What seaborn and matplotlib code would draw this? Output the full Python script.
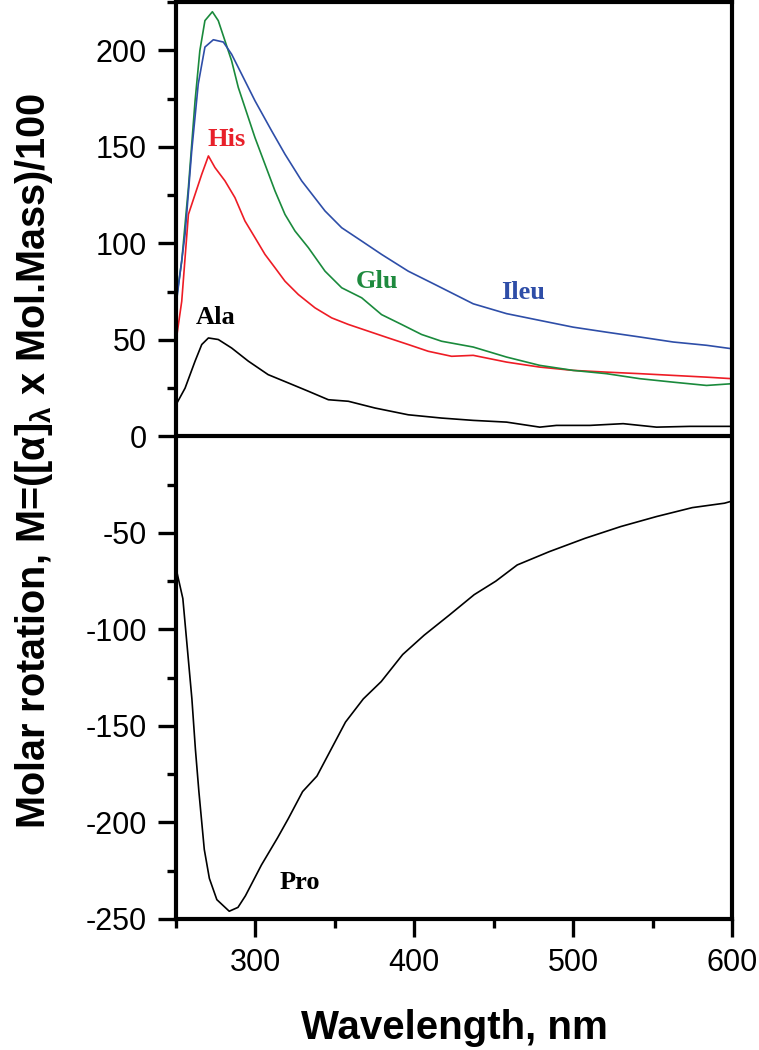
import matplotlib
matplotlib.use('Agg')
import matplotlib.pyplot as plt
import seaborn as sns

# Data (wavelength nm -> molar rotation)
wl_glu = [250, 253.6, 257.8, 262, 265, 268.2, 272.9, 276.6, 280.8, 285, 289.2, 293.4, 299.7, 306, 312.3,
          318.6, 324.9, 333.3, 343.8, 354.3, 366.9, 379.4, 392, 404.6, 417.2, 437.1, 458.1, 479, 500,
          521, 542, 563, 584, 600]
glu = [70, 90.8, 128.9, 173.9, 199.8, 215.4, 220, 215.4, 205, 194.6, 180.8, 170.4, 154.8, 141, 127.2,
       115, 106.4, 97.8, 85.6, 77, 71.8, 63.1, 58, 52.8, 49.3, 46.3, 41.1, 36.8, 34.2,
       32.5, 29.9, 28.1, 26.4, 27.3]

wl_ileu = [250, 255.7, 259.9, 264, 268.2, 273.5, 279.8, 285, 291.3, 299.7, 310.2, 318.6, 329.1, 343.8,
           354.3, 366.9, 379.4, 396.2, 413, 437.1, 458.1, 479, 500, 521, 542, 563, 584, 600]
ileu = [68, 104.7, 148, 182.6, 201.7, 205.5, 204.3, 198, 187.7, 173.9, 158.3, 146.2, 132.4, 116.8,
        108.1, 101.2, 94.3, 85.6, 78.7, 68.7, 63.6, 60.1, 56.6, 54, 51.5, 48.9, 47.2, 45.4]

wl_his = [250, 253.6, 257.8, 262, 266.2, 270.4, 274.5, 280.8, 287.1, 293.4, 299.7, 306, 312.3, 318.6,
          327, 337.5, 348, 358.5, 371.1, 383.7, 396.2, 408.8, 423.5, 437.1, 458.1, 479, 500, 521,
          542, 563, 584, 600]
his = [49.3, 70, 115, 125.4, 135.8, 145.3, 139.3, 132.4, 123.7, 111.6, 103, 94.3, 87.4, 80.4,
       73.5, 66.6, 61.4, 58, 54.5, 51, 47.6, 44.1, 41.5, 42, 38.5, 35.9, 34.2, 33.3,
       32.5, 31.6, 30.7, 29.9]

wl_ala = [250, 255.7, 262, 266.2, 270.4, 276.6, 285, 295.5, 308, 320.7, 333.3, 345.9, 358.5, 375.3,
          396.2, 417.2, 437.1, 458.1, 479, 489.5, 510.5, 531.5, 552.5, 573.5, 600]
ala = [16.4, 25, 39, 47.6, 51, 50.2, 45.8, 39, 32, 27.7, 23.4, 19, 18.2, 14.7,
       11.2, 9.5, 8.3, 7.4, 4.8, 5.7, 5.7, 6.6, 4.8, 5.2, 5.2]

wl_pro = [250, 254.3, 257.7, 260, 262.2, 264.4, 267.8, 271, 275.7, 283.5, 289, 293.7, 303.8, 313.9,
          320.7, 329.7, 338.7, 347.7, 356.7, 367.9, 379.2, 392.7, 406.2, 422, 437.7, 451.3, 464.8,
          485, 507.5, 530, 552.6, 575, 595.3, 600]
pro = [-68.3, -84, -115, -136, -162, -184, -214, -229, -240, -246, -244, -238, -222, -208,
       -198, -184, -176, -162, -148, -136, -127, -113, -103, -92.6, -82, -75, -66.6,
       -59.7, -52.8, -46.7, -41.5, -36.9, -34.6, -33.5]

series = [
    (wl_ala, ala, 'black'),
    (wl_his, his, '#ee1c25'),
    (wl_glu, glu, '#1a8a3c'),
    (wl_ileu, ileu, '#2e4ea8'),
    (wl_pro, pro, 'black'),
]

labels = ['His', 'Glu', 'Ileu', 'Ala', 'Pro']
label_x = [282, 376.5, 468.6, 275.2, 327.7]
label_y = [154, 80.5, 74.3, 61.5, -231]
label_colors = ['#e8202a', '#1e8a3e', '#2e4da7', 'black', 'black']

sns.set_style('ticks')
plt.rcParams['font.family'] = ['Liberation Sans', 'DejaVu Sans']
plt.rcParams['mathtext.fontset'] = 'custom'
plt.rcParams['mathtext.rm'] = 'Liberation Sans:bold'
plt.rcParams['mathtext.it'] = 'Liberation Sans:bold'
plt.rcParams['axes.unicode_minus'] = False
plt.rcParams['text.color'] = 'black'
plt.rcParams['axes.labelcolor'] = 'black'
plt.rcParams['xtick.color'] = 'black'
plt.rcParams['ytick.color'] = 'black'

fig = plt.figure(figsize=(7.59, 10.5), dpi=100)
ax = fig.add_axes([0.2319, 0.1248, 0.7325, 0.8732])

for x, y, c in series:
    sns.lineplot(x=x, y=y, ax=ax, color=c, linewidth=1.2, sort=False)

ax.axhline(0, color='black', linewidth=3)

for t, x, y, c in zip(labels, label_x, label_y, label_colors):
    ax.text(x, y, t, color=c, fontsize=19, fontweight='bold', family='Liberation Serif',
            ha='center', va='center')

ax.set_xlim(250, 600)
ax.set_ylim(-250, 225)
ax.set_xticks([300, 400, 500, 600])
ax.set_xticks([250, 350, 450, 550], minor=True)
ax.set_yticks(list(range(-250, 201, 50)))
ax.set_yticks(list(range(-225, 226, 50)), minor=True)

for s in ax.spines.values():
    s.set_linewidth(3)
    s.set_color('black')
ax.tick_params(which='major', length=13, width=2.4, labelsize=22, pad=8, direction='out')
ax.tick_params(which='minor', length=6.5, width=2.4, direction='out')

ax.set_xlabel('Wavelength, nm', fontsize=29, fontweight='bold', labelpad=22)
ax.set_ylabel(r'Molar rotation, M=([α]$_\lambda$ x Mol.Mass)/100', fontsize=28.5,
              fontweight='bold', labelpad=22)

fig.savefig('out.png', dpi=100)
